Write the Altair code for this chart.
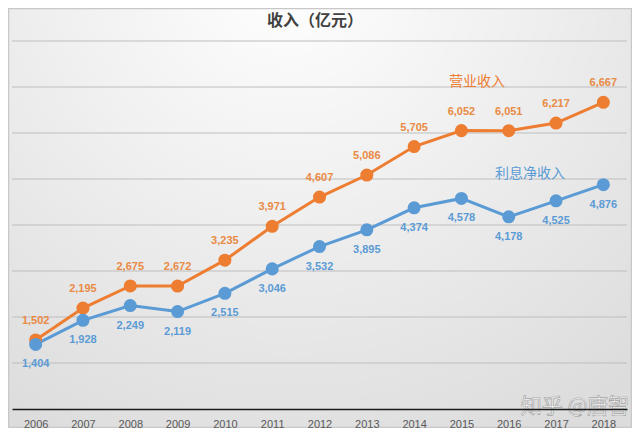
import altair as alt
import pandas as pd

years = [str(y) for y in range(2006, 2019)]
revenue = [1502, 2195, 2675, 2672, 3235, 3971, 4607, 5086, 5705, 6052, 6051, 6217, 6667]
net_interest = [1404, 1928, 2249, 2119, 2515, 3046, 3532, 3895, 4374, 4578, 4178, 4525, 4876]
grid_values = [1000, 2000, 3000, 4000, 5000, 6000, 7000, 8000]
series_names = ["营业收入", "利息净收入"]
series_colors = ["#ED7D31", "#5B9BD5"]
title_text = "收入（亿元）"
watermark = "知乎 @唐智"

rows = []
for i, y in enumerate(years):
    rows.append({"year": y, "series": series_names[0], "value": revenue[i]})
    rows.append({"year": y, "series": series_names[1], "value": net_interest[i]})
df = pd.DataFrame(rows)

W, H = 615, 368
PAD = {"left": 4, "top": 33, "right": 5, "bottom": 19}

color_scale = alt.Scale(domain=series_names, range=series_colors)
y_scale = alt.Scale(domain=[0, 8000], nice=False)
x_enc = alt.X("year:N", sort=years,
              axis=alt.Axis(title=None, labelAngle=0, ticks=False, labelPadding=9,
                            labelFontSize=11, labelColor="#595959", labelFont="Liberation Sans",
                            domainColor="#1a1a1a", domainWidth=1.6, grid=False, zindex=1))
y_enc = alt.Y("value:Q", scale=y_scale, axis=None)

base = alt.Chart(df)

bg = alt.Chart(pd.DataFrame({"a": [0]})).mark_rect(
    color=alt.Gradient(gradient="radial", x1=0.45, y1=0.1, x2=0.45, y2=0.1, r1=0, r2=0.85,
                       stops=[alt.GradientStop(color="#ffffff", offset=0),
                              alt.GradientStop(color="#dcdcdc", offset=1)]),
    stroke="#c8c8c8", strokeWidth=1.5
).encode(x=alt.value(-PAD["left"] + 0.5), x2=alt.value(W + PAD["right"] - 0.5),
         y=alt.value(-PAD["top"] + 0.5), y2=alt.value(H + PAD["bottom"] - 0.5))

grid = alt.Chart(pd.DataFrame({"g": grid_values})).mark_rule(
    color="#bdbdbd", strokeWidth=1.2
).encode(y=alt.Y("g:Q", scale=y_scale, axis=None), x=alt.value(0), x2=alt.value(W))

lines = base.mark_line(strokeWidth=3).encode(
    x=x_enc, y=y_enc,
    color=alt.Color("series:N", scale=color_scale, legend=None),
    detail="series:N")

points = base.mark_point(filled=True, size=170, opacity=1).encode(
    x=alt.X("year:N", sort=years), y="value:Q",
    color=alt.Color("series:N", scale=color_scale, legend=None))

lab_top = base.transform_filter(alt.datum.series == series_names[0]).mark_text(
    dy=-19, fontSize=11, fontWeight="bold", font="Liberation Sans", color="#E98A45"
).encode(x=alt.X("year:N", sort=years), y="value:Q", text=alt.Text("value:Q", format=",.0f"))

lab_bot = base.transform_filter(alt.datum.series == series_names[1]).mark_text(
    dy=20, fontSize=11, fontWeight="bold", font="Liberation Sans", color="#5B9BD5"
).encode(x=alt.X("year:N", sort=years), y="value:Q", text=alt.Text("value:Q", format=",.0f"))

name_df = pd.DataFrame({"name": series_names, "px": [465, 518], "py": [41, 133]})
names = alt.Chart(name_df).mark_text(fontSize=14, font="Noto Sans CJK SC").encode(
    x=alt.X("px:Q", scale=None), y=alt.Y("py:Q", scale=None), text="name:N",
    color=alt.Color("name:N", scale=color_scale, legend=None))

title = alt.Chart(pd.DataFrame({"t": [title_text]})).mark_text(
    fontSize=16, fontWeight="bold", font="Noto Sans CJK SC", color="#404040"
).encode(x=alt.value(303), y=alt.value(-20), text="t:N")

wm = alt.Chart(pd.DataFrame({"t": [watermark]})).mark_text(
    fontSize=21, font="Noto Sans CJK SC", color="#ffffff", stroke="#9a9a9a", strokeWidth=0.7,
    opacity=0.85
).encode(x=alt.value(563), y=alt.value(366), text="t:N")

chart = alt.layer(bg, grid, lines, points, lab_top, lab_bot, names, title, wm).properties(
    width=W, height=H, padding=PAD,
    autosize=alt.AutoSizeParams(type="none"),
    background="#ffffff"
).configure_view(stroke=None)

chart.save("out.html", embed_options={"renderer": "svg", "actions": False})
